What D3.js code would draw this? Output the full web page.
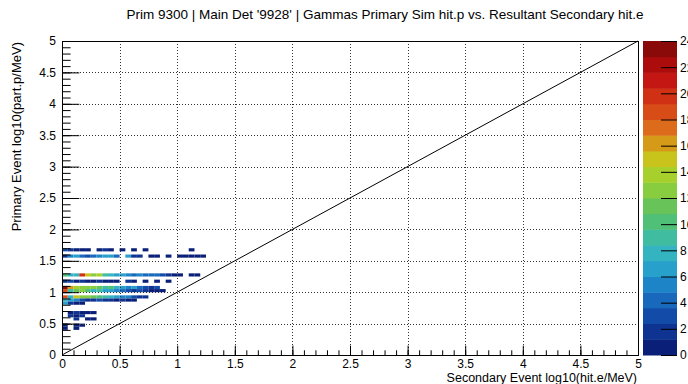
<!DOCTYPE html>
<html>
<head>
<meta charset="utf-8">
<script src="https://cdn.jsdelivr.net/npm/d3@7"></script>
<style>
  html, body { margin: 0; padding: 0; background: #fff; }
  svg { display: block; font-family: "Liberation Sans", Arial, sans-serif; }
</style>
</head>
<body>
<div id="chart"></div>
<script>
const titleText = "Prim 9300 | Main Det '9928' | Gammas Primary Sim hit.p vs. Resultant Secondary hit.e";
const xTitle = "Secondary Event log10(hit.e/MeV)";
const yTitle = "Primary Event log10(part.p/MeV)";

// 2D histogram, bins of 0.05 in both axes; each row starts at x = 0
const binSize = 0.05;
const rowLows = [1.65, 1.55, 1.25, 1.15, 1.05, 1.00, 0.90, 0.85, 0.80, 0.65, 0.60, 0.55, 0.45, 0.40];
const rowCounts = [
  [3, 2, 1, 1, 1, 0, 1, 2, 1, 0, 1, 0, 1, 0, 1, 0, 0, 0, 0, 0, 0, 0, 1],
  [2, 5, 7, 4, 3, 4, 5, 6, 7, 4, 0, 7, 2, 2, 0, 1, 1, 0, 1, 0, 1, 1, 1, 1, 1],
  [10, 8, 8, 20, 15, 13, 14, 9, 8, 6, 6, 5, 4, 5, 4, 4, 4, 3, 2, 1, 1, 0, 1, 1],
  [2, 3, 1, 2, 1, 1, 2, 1, 1, 1, 0, 2, 1, 0, 1, 0, 1, 0, 1],
  [24, 16, 14, 13, 12, 13, 11, 9, 10, 8, 6, 5, 6, 4, 3, 2, 3],
  [19, 9, 11, 12, 10, 8, 9, 7, 6, 5, 4, 3, 2, 3, 2, 1, 1, 1],
  [18, 8, 15, 13, 13, 11, 10, 9, 8, 6, 5, 5, 3, 2, 2],
  [8, 6, 5, 3, 2, 2, 3, 2, 2, 1, 2, 1, 1],
  [6, 2, 1, 1],
  [0, 1, 2, 1, 1, 1],
  [0, 2, 1, 2],
  [0, 0, 2, 0, 1, 1],
  [1, 0, 1, 1],
  [1, 0, 1]
];

const axisTicks = [0, 0.5, 1, 1.5, 2, 2.5, 3, 3.5, 4, 4.5, 5];
const minorTicks = d3.range(0, 51).map(i => i / 10);
const zTicks = [0, 2, 4, 6, 8, 10, 12, 14, 16, 18, 20, 22, 24];
const diagonalPoints = [[0, 0], [5, 5]];

// 20 palette bands, bottom to top
const paletteColors = [
  "#0a1f78", "#0e3390", "#124ca8", "#1868bc", "#1e84c8",
  "#28a0cc", "#34b4c0", "#40bca0", "#50bf78", "#68c458",
  "#88cc40", "#a8d02c", "#c8c41c", "#d49a18", "#dc6c1c",
  "#d84c18", "#d03014", "#c41612", "#ac0c0c", "#8a0a0a"
];

const width = 688, height = 384;
const plot = { left: 62, right: 638, top: 41, bottom: 355 };
const bar = { left: 643, right: 677 };
const font = '"Liberation Sans", Arial, sans-serif';

const svg = d3.select('#chart').append('svg')
  .attr('width', width)
  .attr('height', height);

const x = d3.scaleLinear().domain([0, 5]).range([plot.left, plot.right]);
const y = d3.scaleLinear().domain([0, 5]).range([plot.bottom, plot.top]);
const z = d3.scaleLinear().domain([0, 24]).range([plot.bottom, plot.top]);
const color = d3.scaleQuantize().domain([0, 24]).range(paletteColors);

const cells = [];
rowLows.forEach((yl, i) => {
  rowCounts[i].forEach((v, j) => {
    if (v > 0) cells.push({ x: j * binSize, y: yl, v: v });
  });
});

// heatmap cells
svg.append('g')
  .selectAll('rect')
  .data(cells)
  .join('rect')
  .attr('x', d => x(d.x))
  .attr('y', d => y(d.y + binSize))
  .attr('width', d => x(d.x + binSize) - x(d.x))
  .attr('height', d => y(d.y) - y(d.y + binSize))
  .attr('fill', d => color(d.v));

// dotted grid on top
const grid = svg.append('g')
  .attr('stroke', '#333')
  .attr('stroke-width', 1)
  .attr('stroke-dasharray', '1,2')
  .attr('shape-rendering', 'crispEdges');
grid.selectAll('.gx')
  .data(axisTicks.slice(1, -1))
  .join('line')
  .attr('x1', d => Math.round(x(d)) + 0.5)
  .attr('x2', d => Math.round(x(d)) + 0.5)
  .attr('y1', plot.top)
  .attr('y2', plot.bottom);
grid.selectAll('.gy')
  .data(axisTicks.slice(1, -1))
  .join('line')
  .attr('y1', d => Math.round(y(d)) + 0.5)
  .attr('y2', d => Math.round(y(d)) + 0.5)
  .attr('x1', plot.left)
  .attr('x2', plot.right);

// diagonal y = x
svg.append('path')
  .datum(diagonalPoints)
  .attr('fill', 'none')
  .attr('stroke', '#000')
  .attr('stroke-width', 1)
  .attr('d', d3.line().x(d => x(d[0])).y(d => y(d[1])));

// frame
svg.append('rect')
  .attr('x', plot.left + 0.5)
  .attr('y', plot.top + 0.5)
  .attr('width', plot.right - plot.left)
  .attr('height', plot.bottom - plot.top)
  .attr('fill', 'none')
  .attr('stroke', '#000');

const fmt = d => d3.format('~g')(d);

// X axis: ticks point inward
const xMinor = svg.append('g')
  .attr('transform', `translate(0,${plot.bottom})`)
  .call(d3.axisBottom(x).tickValues(minorTicks).tickSize(-4.7).tickFormat(''));
const xMajor = svg.append('g')
  .attr('transform', `translate(0,${plot.bottom})`)
  .call(d3.axisBottom(x).tickValues(axisTicks).tickSize(-9.4).tickPadding(4).tickFormat(fmt));

// Y axis
const yMinor = svg.append('g')
  .attr('transform', `translate(${plot.left},0)`)
  .call(d3.axisLeft(y).tickValues(minorTicks).tickSize(-8.6).tickFormat(''));
const yMajor = svg.append('g')
  .attr('transform', `translate(${plot.left},0)`)
  .call(d3.axisLeft(y).tickValues(axisTicks).tickSize(-17.3).tickPadding(6).tickFormat(fmt));

[xMinor, xMajor, yMinor, yMajor].forEach(g => {
  g.select('.domain').remove();
  g.selectAll('text').attr('font-size', 12).attr('fill', '#000').style('font-family', font);
});

// palette bar
svg.append('g')
  .selectAll('rect')
  .data(paletteColors)
  .join('rect')
  .attr('x', bar.left)
  .attr('width', bar.right - bar.left)
  .attr('y', (c, i) => z(24 / 20 * (i + 1)))
  .attr('height', (c, i) => z(24 / 20 * i) - z(24 / 20 * (i + 1)) + 0.5)
  .attr('fill', c => c);

const zAxis = svg.append('g')
  .attr('transform', `translate(${bar.right},0)`)
  .call(d3.axisRight(z).tickValues(zTicks).tickSize(-16).tickPadding(3).tickFormat(fmt));
zAxis.select('.domain').remove();
zAxis.selectAll('text').attr('font-size', 12).attr('fill', '#000').style('font-family', font);

// titles
svg.append('text')
  .attr('x', 385)
  .attr('y', 19)
  .attr('text-anchor', 'middle')
  .attr('font-size', 13.5)
  .text(titleText);

svg.append('text')
  .attr('x', plot.right - 1)
  .attr('y', 382)
  .attr('text-anchor', 'end')
  .attr('font-size', 12.5)
  .text(xTitle);

svg.append('text')
  .attr('transform', `translate(21,${plot.top + 1}) rotate(-90)`)
  .attr('text-anchor', 'end')
  .attr('font-size', 13)
  .text(yTitle);
</script>
</body>
</html>
